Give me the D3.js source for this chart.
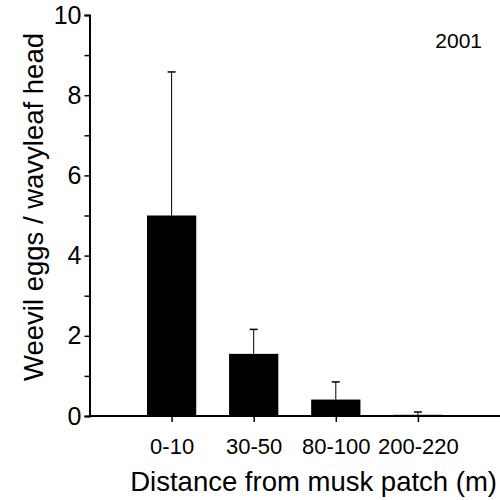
<!DOCTYPE html>
<meta charset="utf-8">
<style type="text/css">
  body { margin: 0; background-color: white; }
  text { font-family: "Liberation Sans", Arial, sans-serif; fill: black; }
</style>
<script src="https://d3js.org/d3.v7.min.js"></script>
<div id="my_dataviz"></div>
<script>

// distance classes and weevil eggs per head (mean, + SE)
var categories = ["0-10", "30-50", "80-100", "200-220"];
var means = [5.0, 1.55, 0.41, 0.03];
var errors = [3.58, 0.61, 0.44, 0.07];
var majorTicks = [0, 2, 4, 6, 8, 10];
var minorTicks = [1, 3, 5, 7, 9];
var yearLabel = "2001";

var width = 500, height = 500;

var svg = d3.select("#my_dataviz")
  .append("svg")
    .attr("width", width)
    .attr("height", height);

// x goes from the y axis to the right edge, one slot per class plus a gap
var x = d3.scaleLinear().domain([0, categories.length + 1]).range([89.5, 500]);
var y = d3.scaleLinear().domain([0, 10]).range([416, 15]);
var barW = x(0.6) - x(0);

var data = categories.map(function(c, i) {
  return {name: c, pos: i + 1, value: means[i], err: errors[i]};
});

// bars
svg.selectAll("rect.bar")
  .data(data)
  .enter()
  .append("rect")
    .attr("class", "bar")
    .attr("x", function(d) { return x(d.pos) - barW / 2; })
    .attr("y", function(d) { return y(d.value); })
    .attr("width", barW)
    .attr("height", function(d) { return y(0) - y(d.value); })
    .style("fill", "black");

// error bars (upper only)
svg.selectAll("line.err")
  .data(data)
  .enter()
  .append("line")
    .attr("class", "err")
    .attr("x1", function(d) { return x(d.pos); })
    .attr("x2", function(d) { return x(d.pos); })
    .attr("y1", function(d) { return y(d.value); })
    .attr("y2", function(d) { return y(d.value + d.err); })
    .style("stroke", "black")
    .style("stroke-width", 1);

svg.selectAll("line.cap")
  .data(data)
  .enter()
  .append("line")
    .attr("class", "cap")
    .attr("x1", function(d) { return x(d.pos) - 4; })
    .attr("x2", function(d) { return x(d.pos) + 4; })
    .attr("y1", function(d) { return y(d.value + d.err); })
    .attr("y2", function(d) { return y(d.value + d.err); })
    .style("stroke", "black")
    .style("stroke-width", 1.5);

// y axis
var yAxis = svg.append("g")
  .attr("transform", "translate(" + x(0) + ",0)")
  .call(d3.axisLeft(y).tickValues(majorTicks).tickSize(5).tickPadding(3).tickFormat(d3.format("d")));
yAxis.selectAll("text").style("font-size", "25px").attr("font-family", null);

var yMinor = svg.append("g")
  .attr("transform", "translate(" + x(0) + ",0)")
  .call(d3.axisLeft(y).tickValues(minorTicks).tickSize(5).tickFormat(""));
yMinor.select(".domain").remove();

// x axis
var xAxis = svg.append("g")
  .attr("transform", "translate(0," + y(0) + ")")
  .call(d3.axisBottom(x).tickValues(data.map(function(d) { return d.pos; }))
    .tickSize(6).tickPadding(16)
    .tickFormat(function(v) { return categories[v - 1]; }));
xAxis.select(".domain").attr("d", "M" + x(0) + ",0H500");
xAxis.selectAll("text").style("font-size", "22px").attr("font-family", null);

svg.selectAll(".domain").style("stroke-width", 2);
svg.selectAll(".tick line").style("stroke-width", 1.5);

// titles
svg.append("text")
  .attr("x", 497)
  .attr("y", 491)
  .attr("text-anchor", "end")
  .style("font-size", "27.5px")
  .text("Distance from musk patch (m)");

svg.append("text")
  .attr("transform", "translate(43,207) rotate(-90)")
  .attr("text-anchor", "middle")
  .style("font-size", "27.5px")
  .text("Weevil eggs / wavyleaf head");

svg.append("text")
  .attr("x", 482)
  .attr("y", 48)
  .attr("text-anchor", "end")
  .style("font-size", "21px")
  .text(yearLabel);

</script>
